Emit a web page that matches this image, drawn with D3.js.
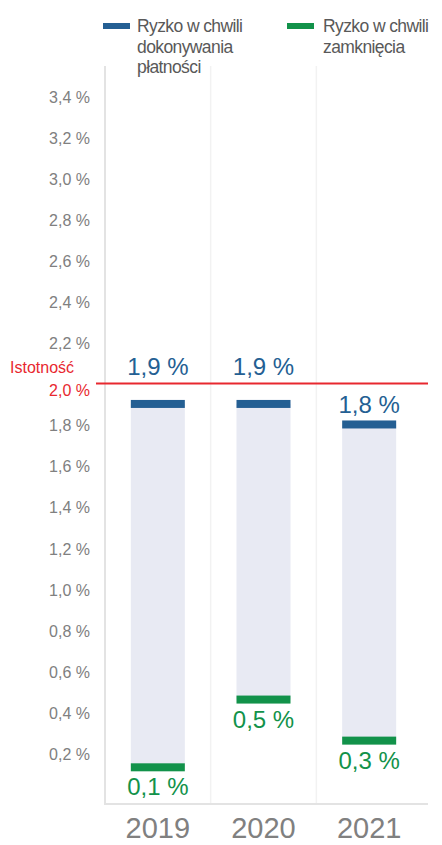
<!DOCTYPE html>
<html><head><meta charset="utf-8">
<script src="https://cdn.jsdelivr.net/npm/d3@7"></script>
<style>body{margin:0;background:#fff}svg{display:block}text{font-family:"Liberation Sans",Arial,sans-serif}</style>
</head><body><svg id="c" width="442" height="845"></svg>
<script>
const years = ["2019","2020","2021"];
const riskPayment = [1.9, 1.9, 1.8];
const riskClosure = [0.13, 0.46, 0.26];
const yTicks = [0.2,0.4,0.6,0.8,1.0,1.2,1.4,1.6,1.8,2.0,2.2,2.4,2.6,2.8,3.0,3.2,3.4];
const materiality = 2.0;
const legendLabels = [["Ryzko w chwili","dokonywania","płatności"],["Ryzko w chwili","zamknięcia"]];

const BLUE="#245f93", GREEN="#12924a", FILL="#e8eaf3", RED="#e8282f", GRAY="#808080";
const svg = d3.select("#c");
const y = d3.scaleLinear().domain([0,3.4]).range([794, 96]);
const x = d3.scaleBand().domain(years).range([105,422]).paddingInner(0).paddingOuter(0);
const bw = 54;
const fmt = v => d3.format(".1f")(v).replace(".", ",") + " %";

// vertical gridlines
svg.selectAll("line.vg").data(years.slice(1)).join("line")
  .attr("x1", d=>x(d)).attr("x2", d=>x(d)).attr("y1",66).attr("y2",804)
  .attr("stroke","#f2f2f2").attr("stroke-width",1.5);
// axis lines
svg.append("line").attr("x1",105).attr("x2",105).attr("y1",66).attr("y2",804).attr("stroke","#e3e3e3").attr("stroke-width",2);
svg.append("line").attr("x1",104).attr("x2",428).attr("y1",804).attr("y2",804).attr("stroke","#e3e3e3").attr("stroke-width",2);

// y tick labels
const yAxis = d3.axisLeft(y).tickValues(yTicks).tickSize(0).tickPadding(0).tickFormat(fmt);
const ga = svg.append("g").attr("transform","translate(90,0)").call(yAxis);
ga.select(".domain").remove();
ga.selectAll("text").attr("font-size",16).attr("fill",d=>d===materiality?RED:GRAY)
  .attr("font-family",'"Liberation Sans",Arial,sans-serif').attr("dy","0.4em")
  .attr("transform", d=> d===materiality ? "translate(0,6)" : null);

// floating bars
const data = years.map((d,i)=>({year:d, hi:riskPayment[i], lo:riskClosure[i]}));
const cx = d => x(d.year)+x.bandwidth()/2;
const capH = 8;
svg.selectAll("rect.fill").data(data).join("rect")
  .attr("x",d=>cx(d)-bw/2).attr("width",bw)
  .attr("y",d=>y(d.hi)).attr("height",d=>y(d.lo)-y(d.hi)).attr("fill",FILL);
svg.selectAll("rect.hi").data(data).join("rect")
  .attr("x",d=>cx(d)-bw/2).attr("width",bw)
  .attr("y",d=>y(d.hi)-capH/2).attr("height",capH).attr("fill",BLUE);
svg.selectAll("rect.lo").data(data).join("rect")
  .attr("x",d=>cx(d)-bw/2).attr("width",bw)
  .attr("y",d=>y(d.lo)-capH/2).attr("height",capH).attr("fill",GREEN);

// materiality line
svg.append("line").attr("x1",96).attr("x2",428).attr("y1",y(materiality)).attr("y2",y(materiality))
  .attr("stroke",RED).attr("stroke-width",2);
svg.append("text").attr("x",10).attr("y",373).attr("font-size",16).attr("fill",RED).text("Istotność");

// value labels
const lineY = y(materiality);
svg.selectAll("text.hi").data(data).join("text")
  .attr("x",cx).attr("text-anchor","middle").attr("font-size",24).attr("fill",BLUE)
  .attr("y",d=>{ let b = y(d.hi)-capH/2-7; return (b-17 < lineY+2) ? lineY-8 : b; })
  .text(d=>fmt(d.hi));
svg.selectAll("text.lo").data(data).join("text")
  .attr("x",cx).attr("text-anchor","middle").attr("font-size",24).attr("fill",GREEN)
  .attr("y",d=>y(d.lo)+capH/2+24)
  .text(d=>fmt(d.lo));

// x labels
svg.selectAll("text.yr").data(years).join("text")
  .attr("x",d=>x(d)+x.bandwidth()/2).attr("y",838).attr("text-anchor","middle")
  .attr("font-size",29).attr("fill",GRAY).text(d=>d);

// legend
const lg = [{c:BLUE, sx:103, tx:137, lines:legendLabels[0]},{c:GREEN, sx:287, tx:323, lines:legendLabels[1]}];
lg.forEach(l=>{
  svg.append("rect").attr("x",l.sx).attr("y",23).attr("width",27).attr("height",6).attr("fill",l.c);
  const t = svg.append("text").attr("x",l.tx).attr("y",32).attr("font-size",17.5).attr("fill","#595959").attr("letter-spacing",-0.6);
  l.lines.forEach((s,i)=>t.append("tspan").attr("x",l.tx).attr("dy",i?20.5:0).text(s));
});
</script></body></html>
